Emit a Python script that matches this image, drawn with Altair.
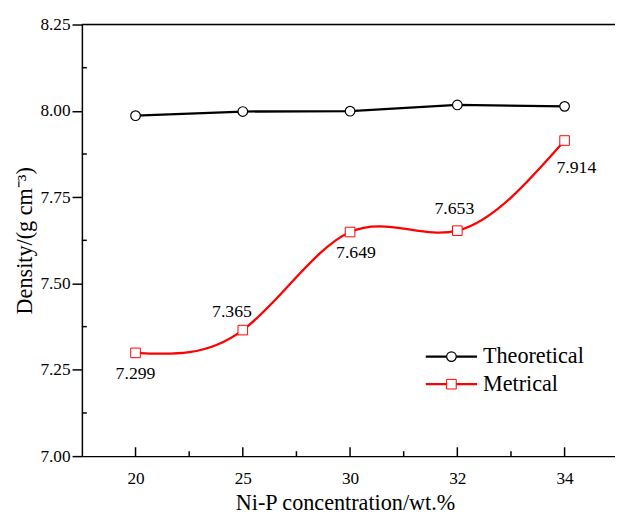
import json
import altair as alt
import pandas as pd

# ---- data ----
conc = ["20", "25", "30", "32", "34"]
theoretical = [7.986, 7.998, 7.999, 8.017, 8.013]
metrical = [7.299, 7.365, 7.649, 7.653, 7.914]
metrical_labels = ["7.299", "7.365", "7.649", "7.653", "7.914"]
y_ticks = [7.00, 7.25, 7.50, 7.75, 8.00, 8.25]
y_minor = [7.125, 7.375, 7.625, 7.875, 8.125]
x_minor = [0.5, 1.5, 2.5, 3.5]
series = ["Theoretical", "Metrical"]

# ---- styling ----
label_offsets = [(0, 21), (-11, -18), (6, 21), (-3, -22), (12, 28)]
W, H = 541, 438
FONT = "Liberation Serif"
BLACK = "#000000"
RED = "#ff0000"

df = pd.DataFrame({
    "idx": list(range(len(conc))),
    "conc": conc,
    "Theoretical": theoretical,
    "Metrical": metrical,
    "label": metrical_labels,
})
one = pd.DataFrame({"a": [0]})

xscale = alt.Scale(domain=[-0.5, 4.47], nice=False, zero=False)
yscale = alt.Scale(domain=[7.0, 8.25], nice=False, zero=False)

label_expr = json.dumps(conc) + "[datum.value]"

x_axis = alt.Axis(
    values=list(range(len(conc))), labelExpr=label_expr, ticks=False, grid=False,
    title="Ni-P concentration/wt.%", labelFont=FONT, labelFontSize=17.5, labelColor=BLACK,
    labelPadding=14, titleFont=FONT, titleFontSize=22.5, titleFontWeight="normal",
    titleColor=BLACK, titlePadding=5, domainColor=BLACK, domainWidth=1.5, titleX=267,
)
y_axis = alt.Axis(
    values=y_ticks, format=".2f", grid=False, title="Density/(g cm⁻³)",
    labelFont=FONT, labelFontSize=17.5, labelColor=BLACK, labelPadding=2,
    tickSize=10, tickColor=BLACK, tickWidth=1.5, domainColor=BLACK, domainWidth=1.5,
    titleFont=FONT, titleFontSize=22.5, titleFontWeight="normal", titleColor=BLACK,
    titlePadding=4,
)


def X(field):
    return alt.X(field, scale=xscale, axis=x_axis)


def Y(field):
    return alt.Y(field, scale=yscale, axis=y_axis)


base = alt.Chart(df)

theo_line = base.mark_line(color=BLACK, strokeWidth=2.3).encode(x=X("idx:Q"), y=Y("Theoretical:Q"))
theo_pts = base.mark_point(shape="circle", filled=True, fill="white", stroke=BLACK,
                           strokeWidth=1.2, size=95, opacity=1).encode(x=X("idx:Q"), y=Y("Theoretical:Q"))
met_line = base.mark_line(color=RED, strokeWidth=2.3, interpolate="natural").encode(
    x=X("idx:Q"), y=Y("Metrical:Q"))
met_pts = base.mark_point(shape="square", filled=True, fill="white", stroke=RED,
                          strokeWidth=1, size=95, opacity=1).encode(x=X("idx:Q"), y=Y("Metrical:Q"))

label_layers = []
for i, (dx, dy) in enumerate(label_offsets):
    label_layers.append(
        base.transform_filter(alt.datum.idx == i).mark_text(
            font=FONT, fontSize=18, color=BLACK, dx=dx, dy=dy, baseline="middle", align="center"
        ).encode(x=X("idx:Q"), y=Y("Metrical:Q"), text="label:N")
    )

# inward ticks
x_major_ticks = base.mark_rule(color=BLACK, strokeWidth=1.5).encode(
    x=X("idx:Q"), y=alt.value(H), y2=alt.value(H - 9)
)
x_minor_ticks = alt.Chart(pd.DataFrame({"idx": x_minor})).mark_rule(color=BLACK, strokeWidth=1.5).encode(
    x=X("idx:Q"), y=alt.value(H), y2=alt.value(H - 5)
)
y_minor_ticks = alt.Chart(pd.DataFrame({"Theoretical": y_minor})).mark_rule(color=BLACK, strokeWidth=1.5).encode(
    y=Y("Theoretical:Q"), x=alt.value(0), x2=alt.value(5)
)
top_border = alt.Chart(one).mark_rule(color=BLACK, strokeWidth=1.5).encode(
    x=alt.value(0), x2=alt.value(W), y=alt.value(0)
)

# manual legend
leg_x1, leg_x2, leg_y = 349, 401, [337, 365]
legend_layers = []
for name, ly, col, shp, sw in [
    (series[0], leg_y[0], BLACK, "circle", 1.2),
    (series[1], leg_y[1], RED, "square", 1),
]:
    legend_layers.append(alt.Chart(one).mark_rule(color=col, strokeWidth=2.3).encode(
        x=alt.value(leg_x1), x2=alt.value(leg_x2), y=alt.value(ly)))
    legend_layers.append(alt.Chart(one).mark_point(
        shape=shp, filled=True, fill="white", stroke=col, strokeWidth=sw, size=95, opacity=1
    ).encode(x=alt.value((leg_x1 + leg_x2) / 2), y=alt.value(ly)))
    legend_layers.append(alt.Chart(one).mark_text(
        font=FONT, fontSize=22.5, color=BLACK, align="left", baseline="middle"
    ).encode(x=alt.value(leg_x2 + 6), y=alt.value(ly), text=alt.value(name)))

chart = alt.layer(
    theo_line, met_line, theo_pts, met_pts, *label_layers,
    x_major_ticks, x_minor_ticks, y_minor_ticks, top_border, *legend_layers,
).properties(
    width=W, height=H,
    autosize=alt.AutoSizeParams(type="none"),
    padding={"left": 75, "top": 13, "right": 0, "bottom": 57},
    background="white",
).configure_view(stroke=None).configure_axis(
    labelFont=FONT, titleFont=FONT, labelColor=BLACK, titleColor=BLACK
).configure(font=FONT)

chart.save("out.html", embed_options={"renderer": "svg", "actions": False})
